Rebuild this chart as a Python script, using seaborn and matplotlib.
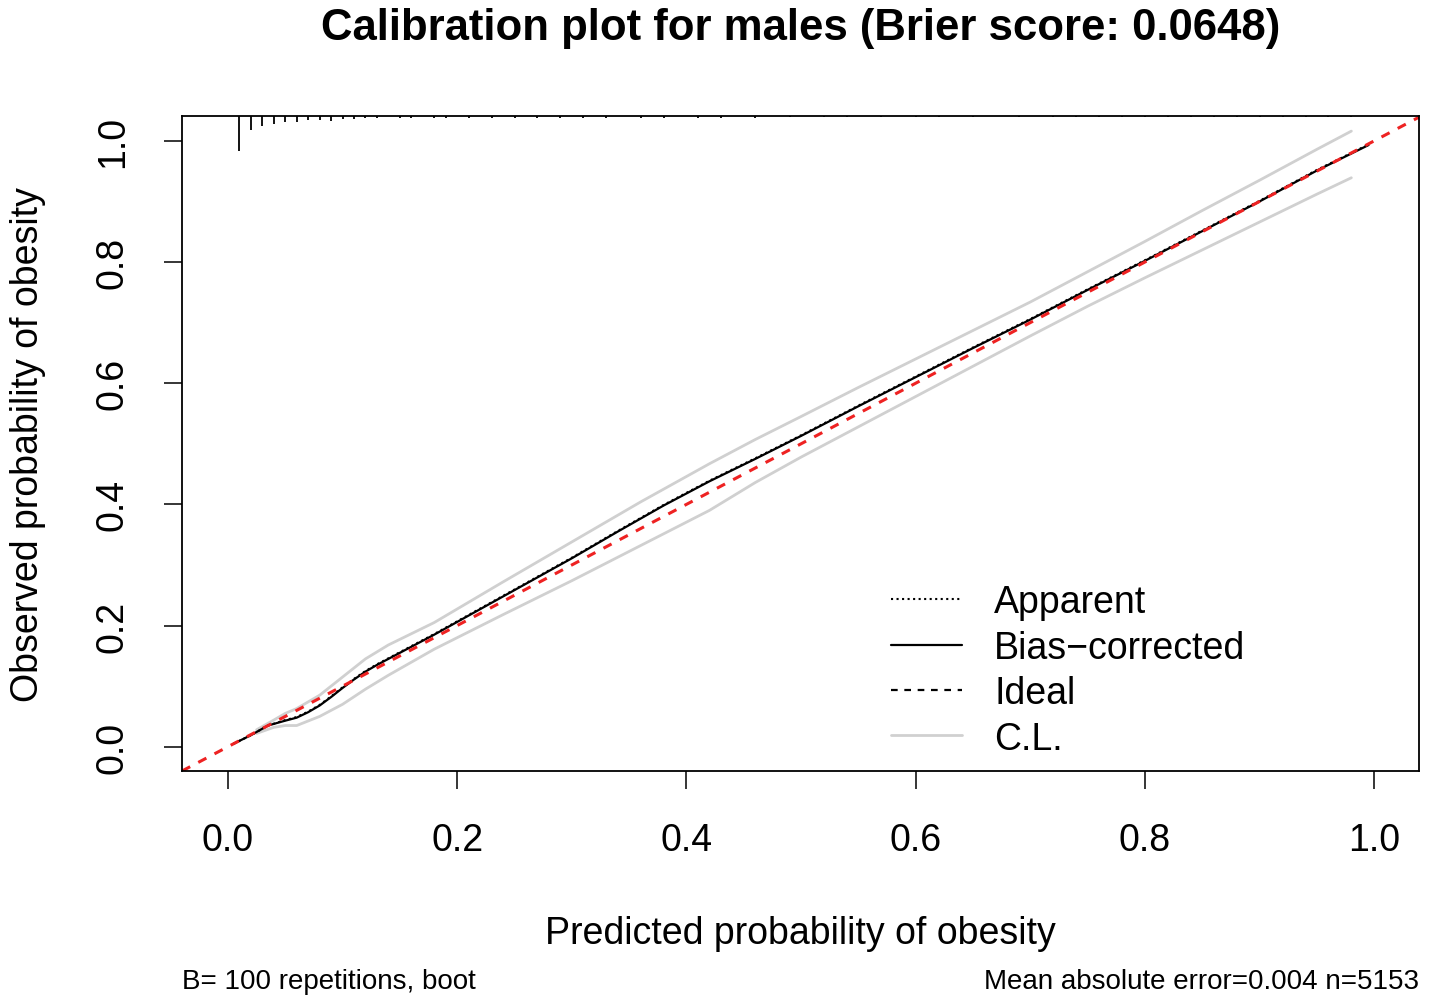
import numpy as np
import pandas as pd
import seaborn as sns
import matplotlib.pyplot as plt
from matplotlib.lines import Line2D

# bias-corrected / apparent calibration curve
pred_x = [0.005, 0.02, 0.035, 0.05, 0.06, 0.07, 0.08, 0.09, 0.10, 0.11, 0.12, 0.13,
          0.15, 0.18, 0.22, 0.26, 0.30, 0.34, 0.38, 0.42, 0.46, 0.50, 0.55, 0.60,
          0.65, 0.70, 0.75, 0.80, 0.85, 0.90, 0.95, 0.995]
bias_corrected = [0.005, 0.019, 0.035, 0.043, 0.048, 0.057, 0.068, 0.082, 0.097, 0.111,
                  0.124, 0.135, 0.155, 0.185, 0.227, 0.269, 0.311, 0.355, 0.398, 0.438,
                  0.475, 0.513, 0.562, 0.610, 0.658, 0.705, 0.754, 0.802, 0.851, 0.900,
                  0.951, 0.993]
apparent = [0.005, 0.019, 0.035, 0.044, 0.049, 0.058, 0.069, 0.083, 0.098, 0.112,
            0.125, 0.136, 0.156, 0.186, 0.228, 0.270, 0.312, 0.356, 0.399, 0.439,
            0.476, 0.514, 0.563, 0.611, 0.659, 0.706, 0.755, 0.803, 0.852, 0.901,
            0.952, 0.994]

# confidence limits
cl_x = [0.025, 0.04, 0.05, 0.06, 0.08, 0.10, 0.12, 0.14, 0.18, 0.24, 0.30, 0.36, 0.42,
        0.46, 0.50, 0.55, 0.60, 0.65, 0.70, 0.75, 0.80, 0.85, 0.90, 0.95, 0.98]
cl_upper = [0.028, 0.044, 0.055, 0.063, 0.085, 0.115, 0.145, 0.168, 0.205, 0.272, 0.338,
            0.404, 0.467, 0.507, 0.545, 0.593, 0.640, 0.687, 0.734, 0.784, 0.834, 0.885,
            0.935, 0.986, 1.016]
cl_lower = [0.022, 0.032, 0.035, 0.035, 0.050, 0.070, 0.095, 0.118, 0.161, 0.218, 0.274,
            0.332, 0.390, 0.436, 0.478, 0.528, 0.578, 0.628, 0.678, 0.727, 0.774, 0.820,
            0.866, 0.912, 0.939]

# distribution of predictions (rug at top), relative frequency
rug_x = [0.01, 0.02, 0.03, 0.04, 0.05, 0.06, 0.07, 0.08, 0.09, 0.10, 0.11, 0.12, 0.13,
         0.15, 0.16, 0.18, 0.19, 0.21, 0.23, 0.25, 0.27, 0.29, 0.31, 0.33, 0.36, 0.38,
         0.41, 0.43, 0.46, 0.49, 0.52, 0.54, 0.57, 0.60, 0.62, 0.65, 0.69, 0.72, 0.74,
         0.76, 0.78, 0.80, 0.82, 0.84, 0.86, 0.88, 0.90, 0.92, 0.94, 0.96, 0.98]
rug_freq = [1.0, 0.40, 0.29, 0.23, 0.17, 0.17, 0.11, 0.11, 0.14, 0.09, 0.09, 0.07, 0.07,
            0.06, 0.06, 0.06, 0.06, 0.06, 0.06, 0.06, 0.06, 0.06, 0.05, 0.05, 0.05, 0.05,
            0.05, 0.05, 0.05, 0.04, 0.04, 0.04, 0.04, 0.04, 0.04, 0.04, 0.04, 0.04, 0.04,
            0.04, 0.04, 0.04, 0.04, 0.04, 0.04, 0.04, 0.04, 0.04, 0.04, 0.04, 0.04]

sns.set_theme(style="white")
plt.rcParams['font.family'] = ['Liberation Sans', 'DejaVu Sans']
plt.rcParams['text.color'] = 'black'
plt.rcParams['axes.labelcolor'] = 'black'

fig = plt.figure(figsize=(14.29, 10.04), dpi=100)
ax = fig.add_axes([0.1274, 0.2311, 0.8656, 0.6524])

ax.set_xlim(-0.040, 1.039)
ax.set_ylim(-0.040, 1.041)

# confidence limits
sns.lineplot(x=cl_x, y=cl_upper, ax=ax, color='#d0d0d0', lw=2, estimator=None, sort=False)
sns.lineplot(x=cl_x, y=cl_lower, ax=ax, color='#d0d0d0', lw=2, estimator=None, sort=False)
# apparent and bias-corrected
sns.lineplot(x=pred_x, y=apparent, ax=ax, color='black', lw=1.5, linestyle=':',
             estimator=None, sort=False)
sns.lineplot(x=pred_x, y=bias_corrected, ax=ax, color='black', lw=1.6,
             estimator=None, sort=False)
# ideal
ax.axline((0, 0), slope=1, color='#ee2222', lw=2.2, dashes=(3, 3))

# rug of predicted probabilities
ytop = ax.get_ylim()[1]
ax.vlines(rug_x, [ytop - f * 0.058 for f in rug_freq], ytop, color='black', lw=1.3)

for s in ax.spines.values():
    s.set_color('black')
    s.set_linewidth(1.3)

ax.set_xticks([0, 0.2, 0.4, 0.6, 0.8, 1.0])
ax.set_yticks([0, 0.2, 0.4, 0.6, 0.8, 1.0])
ax.set_xticklabels(['0.0', '0.2', '0.4', '0.6', '0.8', '1.0'])
ax.set_yticklabels(['0.0', '0.2', '0.4', '0.6', '0.8', '1.0'], rotation=90, va='center')
ax.tick_params(axis='both', direction='out', length=13, width=1.1, color='black',
               labelsize=27, labelcolor='black', bottom=True, left=True)
ax.tick_params(axis='x', pad=24)
ax.tick_params(axis='y', pad=24)

ax.set_xlabel('Predicted probability of obesity', fontsize=27, labelpad=41, color='black')
ax.set_ylabel('Observed probability of obesity', fontsize=27, labelpad=35, color='black')

fig.suptitle('Calibration plot for males (Brier score: 0.0648)', x=0.5603, y=0.972,
             fontsize=31.5, fontweight='bold', va='center', color='black')

fig.text(0.1274, 0.022, 'B= 100 repetitions, boot', fontsize=20, ha='left', va='center')
fig.text(0.993, 0.022, 'Mean absolute error=0.004 n=5153', fontsize=20, ha='right', va='center')

handles = [
    Line2D([], [], color='black', lw=1.5, linestyle=':'),
    Line2D([], [], color='black', lw=1.6),
    Line2D([], [], color='black', lw=1.6, dashes=(3, 3)),
    Line2D([], [], color='#d0d0d0', lw=2),
]
leg = ax.legend(handles, ['Apparent', 'Bias\u2212corrected', 'Ideal', 'C.L.'], frameon=False,
                fontsize=27, loc='lower left', bbox_to_anchor=(0.552, -0.018),
                handlelength=1.9, handletextpad=0.85, labelspacing=0.25, borderaxespad=0.3)
for t in leg.get_texts():
    t.set_color('black')

fig.savefig('out.png', dpi=100)
